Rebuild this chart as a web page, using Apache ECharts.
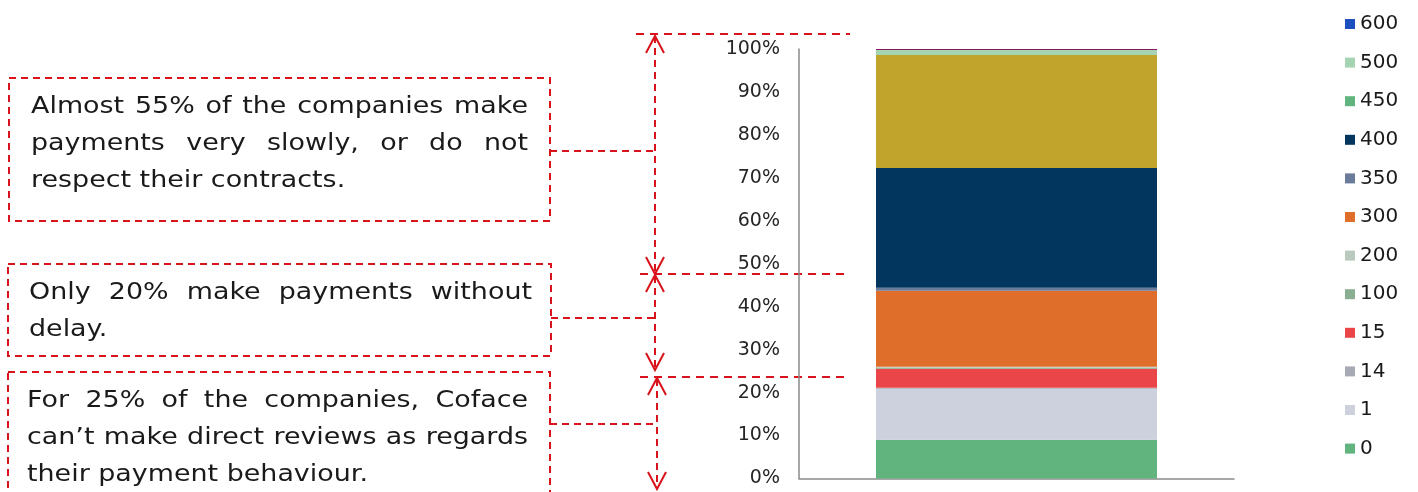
<!DOCTYPE html>
<html>
<head>
<meta charset="utf-8">
<script src="https://cdn.jsdelivr.net/npm/echarts@6/dist/echarts.min.js"></script>
<style>
  html, body { margin: 0; padding: 0; background: #ffffff; }
  #chart { width: 1418px; height: 492px; }
</style>
</head>
<body>
<div id="chart"></div>
<script>
// Payment-behaviour score classes, stacked bottom (0) to top (600), in % of companies
const categories = ['Companies'];
const scoreClasses = ['0', '1', '14', '15', '100', '200', '300', '350', '400', '450', '500', '600'];
const shares = [9.0, 11.9, 0.25, 4.4, 0.25, 0.2, 17.7, 0.7, 27.9, 26.3, 1.15, 0.25];
const legendOrder = ['600', '500', '450', '400', '350', '300', '200', '100', '15', '14', '1', '0'];
const yTicks = { min: 0, max: 100, interval: 10 };

// Annotation paragraphs, one entry per printed line
const noteSlow = ['Almost 55% of the companies make', 'payments very slowly, or do not', 'respect their contracts.'];
const noteOnTime = ['Only 20% make payments without', 'delay.'];
const noteUnknown = ['For 25% of the companies, Coface', 'can\u2019t make direct reviews as regards', 'their payment behaviour.'];

// Styling
const barColors = {
  '0': '#61b47d', '1': '#cdd1dd', '14': '#a7aab4', '15': '#ea4649',
  '100': '#8aae92', '200': '#b9c9bd', '300': '#df6e2b', '350': '#6a7a99',
  '400': '#03365e', '450': '#c1a42b', '500': '#a4d4b1', '600': '#8a1a5e'
};
const legendColors = Object.assign({}, barColors, { '450': '#61b47d', '600': '#1d4fbf' });
const RED = '#d9131c';
const FONT_FAMILY = "'DejaVu Sans', sans-serif";
const NOTE_FONT = "23px 'DejaVu Sans'";
const NOTE_STRETCH = 1.17;

const measureCtx = document.createElement('canvas').getContext('2d');
function textWidth(str) {
  measureCtx.font = NOTE_FONT;
  return measureCtx.measureText(str).width;
}

// Justified paragraph: each word is its own text element
function paragraph(lines, left, right, firstY, lineGap) {
  const els = [];
  lines.forEach(function (line, i) {
    const y = firstY + i * lineGap;
    const words = line.split(' ');
    const widths = words.map(function (w) { return textWidth(w) * NOTE_STRETCH; });
    const total = widths.reduce(function (a, b) { return a + b; }, 0);
    const last = i === lines.length - 1;
    const gap = (last || words.length < 2)
      ? textWidth(' ') * NOTE_STRETCH
      : (right - left - total) / (words.length - 1);
    let x = left;
    words.forEach(function (w, k) {
      els.push({
        type: 'text', x: x, y: y, scaleX: NOTE_STRETCH, silent: true,
        style: { text: w, x: 0, y: 0, font: NOTE_FONT, fill: '#1a1a1a', textAlign: 'left', textVerticalAlign: 'middle' }
      });
      x += widths[k] + gap;
    });
  });
  return els;
}

function dashed(x1, y1, x2, y2, dash) {
  return {
    type: 'line', silent: true,
    shape: { x1: x1, y1: y1, x2: x2, y2: y2 },
    style: { stroke: RED, lineWidth: 2, lineDash: dash || [8, 6] }
  };
}
function box(x, y, w, h) {
  return {
    type: 'rect', silent: true,
    shape: { x: x, y: y, width: w, height: h },
    style: { fill: 'none', stroke: RED, lineWidth: 2, lineDash: [7, 5] }
  };
}
// Open V arrow head; dir = -1 points up, +1 points down
function head(x, tipY, dir) {
  return {
    type: 'polyline', silent: true,
    shape: { points: [[x - 9, tipY - dir * 17], [x, tipY], [x + 9, tipY - dir * 17]] },
    style: { stroke: RED, lineWidth: 2, fill: 'none' }
  };
}

const graphics = [].concat(
  [
    box(9, 78, 541, 143),
    box(8, 264, 543, 92),
    box(8, 372, 542, 140),
    dashed(636, 34, 850, 34),
    dashed(640, 274, 850, 274),
    dashed(640, 377, 850, 377),
    dashed(550, 151, 655, 151, [7, 5]),
    dashed(551, 318, 655, 318, [7, 5]),
    dashed(550, 424, 657, 424, [7, 5]),
    dashed(655, 36, 655, 273, [7, 5]),
    dashed(655, 276, 655, 369, [7, 5]),
    dashed(657, 379, 657, 489, [7, 5]),
    head(655, 36, -1), head(655, 274, 1),
    head(655, 275, -1), head(655, 370, 1),
    head(657, 378, -1), head(657, 489, 1)
  ],
  paragraph(noteSlow, 31, 528, 107, 37),
  paragraph(noteOnTime, 29, 532, 293, 37),
  paragraph(noteUnknown, 27, 528, 401, 37)
);

const chart = echarts.init(document.getElementById('chart'), null, { renderer: 'canvas' });
chart.setOption({
  animation: false,
  backgroundColor: '#ffffff',
  grid: { left: 799, right: 184, top: 49, bottom: 13.5, containLabel: false },
  xAxis: {
    type: 'category',
    data: categories,
    axisLine: { show: true, lineStyle: { color: '#8a8a8a', width: 1.5 } },
    axisTick: { show: false },
    axisLabel: { show: false },
    splitLine: { show: false }
  },
  yAxis: {
    type: 'value',
    min: yTicks.min, max: yTicks.max, interval: yTicks.interval,
    axisLine: { show: true, lineStyle: { color: '#8a8a8a', width: 1.5 } },
    axisTick: { show: false },
    splitLine: { show: false },
    axisLabel: {
      formatter: '{value}%', margin: 19,
      color: '#262626', fontSize: 19, fontFamily: FONT_FAMILY
    }
  },
  legend: {
    orient: 'vertical',
    left: 1345, top: 14, padding: 0,
    icon: 'rect', itemWidth: 10, itemHeight: 10, itemGap: 18.6,
    selectedMode: false,
    textStyle: { color: '#1a1a1a', fontSize: 20, lineHeight: 20, fontFamily: FONT_FAMILY },
    data: legendOrder.map(function (n) { return { name: n, itemStyle: { color: legendColors[n] } }; })
  },
  series: scoreClasses.map(function (name, i) {
    return {
      name: name,
      type: 'bar',
      stack: 'total',
      barWidth: 281,
      itemStyle: { color: barColors[name] },
      data: [shares[i]]
    };
  }),
  graphic: graphics
});
</script>
</body>
</html>
